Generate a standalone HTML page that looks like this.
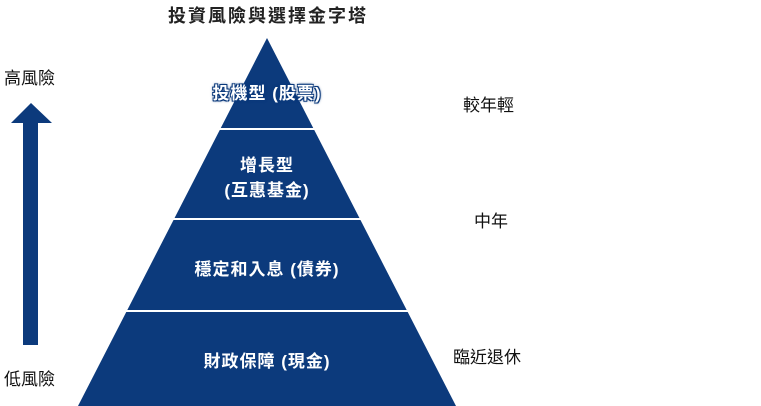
<!DOCTYPE html>
<html><head><meta charset="utf-8"><style>
body{margin:0;width:761px;height:406px;background:#fff;position:relative;overflow:hidden;font-family:"Liberation Sans","Noto Sans CJK TC",sans-serif}
.t{position:absolute;white-space:nowrap}
.w{color:#fff;font-weight:bold;font-size:17px;letter-spacing:1px;text-align:center;width:300px;left:117px}
.r{font-size:17px;color:#111}
</style></head><body>
<svg width="761" height="406" style="position:absolute;left:0;top:0">
<polygon points="267,38 456,406 78,406" fill="#0c3a7c"/>
<line x1="200" y1="129" x2="340" y2="129" stroke="#fff" stroke-width="2"/>
<line x1="150" y1="219" x2="390" y2="219" stroke="#fff" stroke-width="2"/>
<line x1="100" y1="311" x2="440" y2="311" stroke="#fff" stroke-width="2"/>
<polygon points="31,103 52,123 38,123 38,345 23,345 23,123 11,123" fill="#0c3a7c"/>
</svg>
<div class="t" style="left:0;width:536px;text-align:center;top:2px;font-weight:bold;font-size:18px;letter-spacing:2px;color:#222">投資風險與選擇金字塔</div>
<div class="t r" style="left:4px;top:64px">高風險</div>
<div class="t r" style="left:4px;top:365px">低風險</div>
<div class="t w" style="top:79px;text-shadow:0 0 2px #0c3a7c,0 0 3px #0c3a7c,1px 1px 0 #0c3a7c,-1px -1px 0 #0c3a7c,1px -1px 0 #0c3a7c,-1px 1px 0 #0c3a7c">投機型 (股票)</div>
<div class="t w" style="top:153px;line-height:25px">增長型<br>(互惠基金)</div>
<div class="t w" style="top:255px">穩定和入息 (債券)</div>
<div class="t w" style="top:347px">財政保障 (現金)</div>
<div class="t r" style="left:463px;top:91px">較年輕</div>
<div class="t r" style="left:474px;top:207px">中年</div>
<div class="t r" style="left:453px;top:343px">臨近退休</div>
</body></html>
